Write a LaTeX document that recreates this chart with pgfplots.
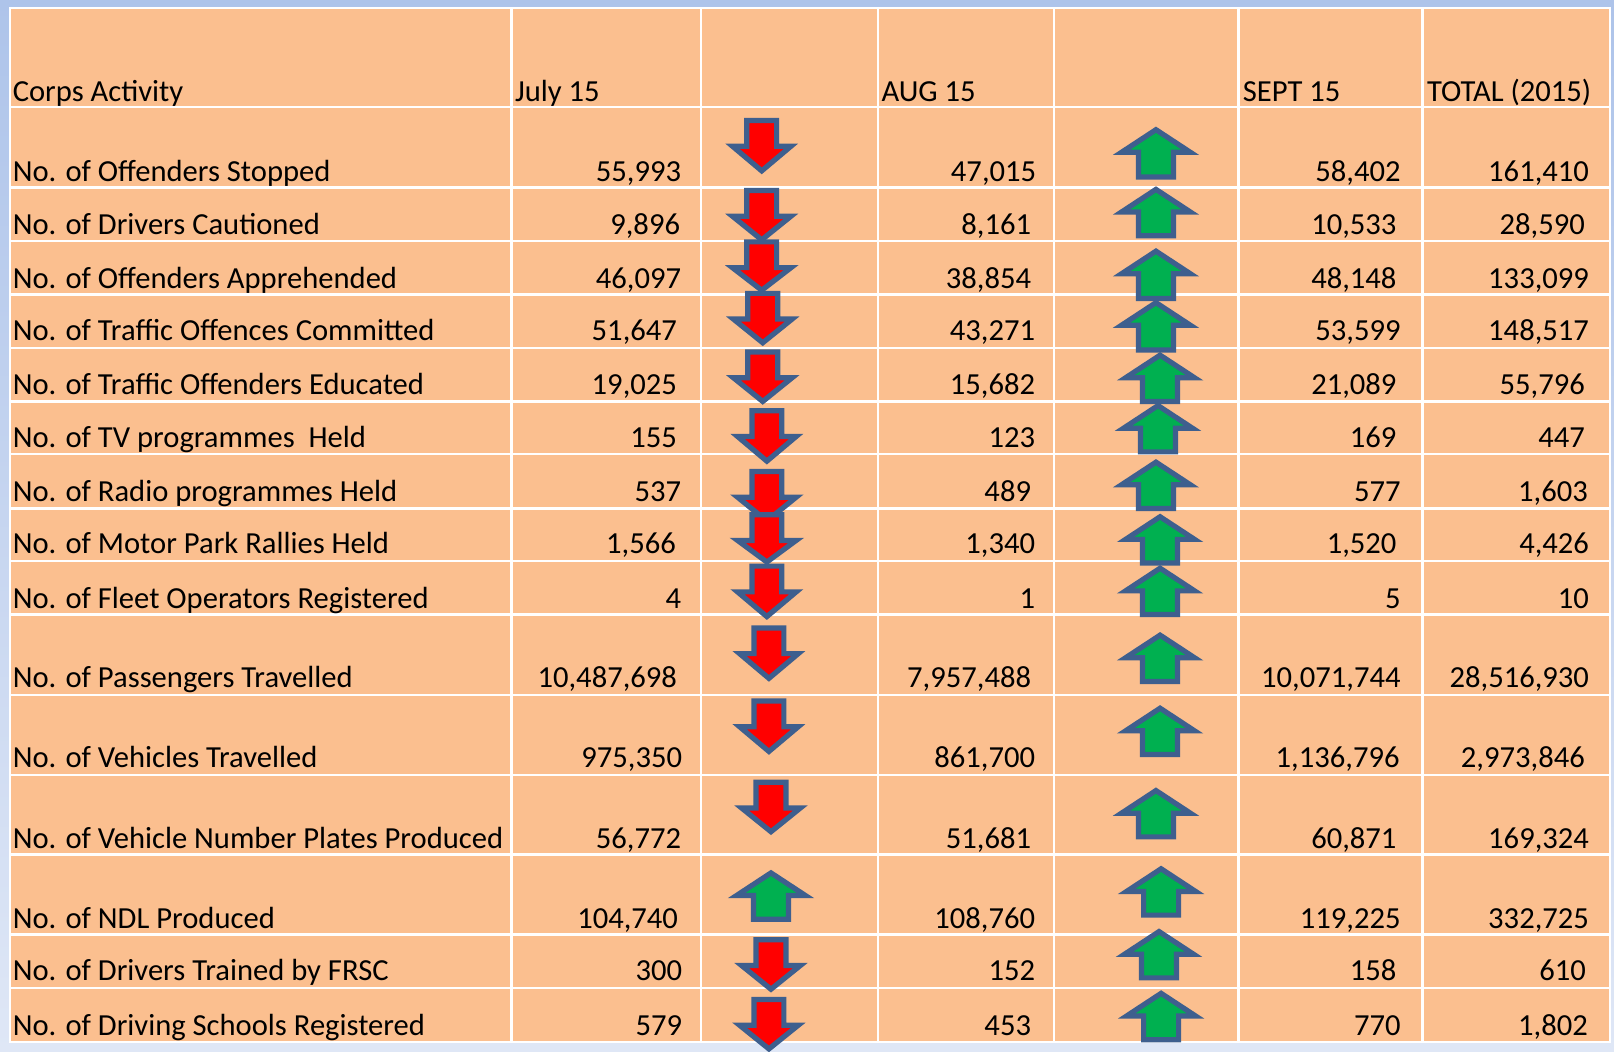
\documentclass[border=0pt]{standalone}
\usepackage{pgfplots}
\pgfplotsset{compat=1.18}
\usepackage{fontspec}
\setmainfont{Carlito}
\definecolor{cell}{HTML}{FBBF8F}
\definecolor{bgtop}{HTML}{AEC4EA}
\definecolor{bgbot}{HTML}{DFE7F6}
\definecolor{arrowline}{HTML}{3E5F8E}
\definecolor{arrowred}{HTML}{FF0000}
\definecolor{arrowgreen}{HTML}{00B050}
% down arrow: centre x, top y, tip y
\newcommand{\dn}[3]{%
 \pgfmathsetmacro{\xa}{#1-14.5}\pgfmathsetmacro{\xb}{#1+14.5}%
 \pgfmathsetmacro{\xc}{#1-28.5}\pgfmathsetmacro{\xd}{#1+28.5}%
 \pgfmathsetmacro{\ya}{#2+3}\pgfmathsetmacro{\yb}{#2+28}\pgfmathsetmacro{\yc}{#3-3}%
 \addplot[draw=arrowline,fill=arrowred,line width=2.6pt,miter limit=10] coordinates {(\xa,\ya)(\xb,\ya)(\xb,\yb)(\xd,\yb)(#1,\yc)(\xc,\yb)(\xa,\yb)} -- cycle;%
}
% up arrow: centre x, tip y, bottom y
\newcommand{\up}[3]{%
 \pgfmathsetmacro{\xa}{#1-17}\pgfmathsetmacro{\xb}{#1+17}%
 \pgfmathsetmacro{\xc}{#1-33.5}\pgfmathsetmacro{\xd}{#1+33.5}%
 \pgfmathsetmacro{\ya}{#2+3}\pgfmathsetmacro{\yb}{#2+25}\pgfmathsetmacro{\yc}{#3-3}%
 \addplot[draw=arrowline,fill=arrowgreen,line width=2.6pt,miter limit=10] coordinates {(#1,\ya)(\xd,\yb)(\xb,\yb)(\xb,\yc)(\xa,\yc)(\xa,\yb)(\xc,\yb)} -- cycle;%
}
\newcommand{\lab}[2]{\node[anchor=base west,inner sep=0pt] at (axis cs:12,#1) {#2};}
\newcommand{\val}[3]{\node[anchor=base east,inner sep=0pt] at (axis cs:#1,#2) {#3};}
\begin{document}
\begin{tikzpicture}
\begin{axis}[
  scale only axis, width=807pt, height=526pt,
  xmin=0, xmax=1568, ymin=0, ymax=1022, y dir=reverse,
  enlargelimits=false, hide axis,
  font=\fontsize{15.3}{17}\selectfont,
]
% background and table body
\addplot[draw=none,top color=bgtop,bottom color=bgbot] coordinates {(0,0)(1568,0)(1568,1022)(0,1022)} -- cycle;
\addplot[draw=white,line width=1.2pt,fill=cell] coordinates {(10,8)(1564,8)(1564,1012)(10,1012)} -- cycle;
% column rules
\addplot[white,line width=1.2pt] coordinates {(497,8)(497,1012)};
\addplot[white,line width=1.2pt] coordinates {(681,8)(681,1012)};
\addplot[white,line width=1.2pt] coordinates {(853,8)(853,1012)};
\addplot[white,line width=1.2pt] coordinates {(1024,8)(1024,1012)};
\addplot[white,line width=1.2pt] coordinates {(1203,8)(1203,1012)};
\addplot[white,line width=1.2pt] coordinates {(1382,8)(1382,1012)};
% row rules
\addplot[white,line width=1.2pt] coordinates {(10,104)(1564,104)};
\addplot[white,line width=1.2pt] coordinates {(10,182)(1564,182)};
\addplot[white,line width=1.2pt] coordinates {(10,234)(1564,234)};
\addplot[white,line width=1.2pt] coordinates {(10,286)(1564,286)};
\addplot[white,line width=1.2pt] coordinates {(10,338)(1564,338)};
\addplot[white,line width=1.2pt] coordinates {(10,390)(1564,390)};
\addplot[white,line width=1.2pt] coordinates {(10,441)(1564,441)};
\addplot[white,line width=1.2pt] coordinates {(10,494)(1564,494)};
\addplot[white,line width=1.2pt] coordinates {(10,545)(1564,545)};
\addplot[white,line width=1.2pt] coordinates {(10,597)(1564,597)};
\addplot[white,line width=1.2pt] coordinates {(10,675)(1564,675)};
\addplot[white,line width=1.2pt] coordinates {(10,753)(1564,753)};
\addplot[white,line width=1.2pt] coordinates {(10,830)(1564,830)};
\addplot[white,line width=1.2pt] coordinates {(10,908)(1564,908)};
\addplot[white,line width=1.2pt] coordinates {(10,960)(1564,960)};
% arrows, first column
\dn{740}{114}{169}\dn{740}{182}{236}\dn{740}{232}{285}\dn{741}{282}{336}\dn{741}{339}{393}
\dn{745}{396}{451}\dn{745}{455}{509}\dn{745}{497}{549}\dn{745}{547}{602}\dn{747}{607}{662}
\dn{747}{678}{733}\dn{749}{757}{811}\up{749}{845}{896}\dn{749}{910}{964}\dn{747}{968}{1022}
% arrows, second column
\up{1123}{123}{175}\up{1123}{181}{232}\up{1123}{241}{293}\up{1123}{291}{343}\up{1127}{342}{393}
\up{1125}{391}{442}\up{1123}{446}{497}\up{1127}{499}{550}\up{1127}{549}{600}\up{1127}{614}{665}
\up{1127}{685}{736}\up{1123}{765}{816}\up{1128}{841}{892}\up{1126}{902}{953}\up{1128}{962}{1013}
% header
\lab{99}{Corps Activity}
\node[anchor=base west,inner sep=0pt] at (axis cs:500,99) {July 15};
\node[anchor=base west,inner sep=0pt] at (axis cs:856,99) {AUG 15};
\node[anchor=base west,inner sep=0pt] at (axis cs:1207,99) {SEPT 15};
\node[anchor=base west,inner sep=0pt] at (axis cs:1386,99) {TOTAL (2015)};
% labels
\lab{176}{No. of Offenders Stopped}
\lab{228}{No. of Drivers Cautioned}
\lab{280}{No. of Offenders Apprehended}
\lab{331}{No. of Traffic Offences Committed}
\lab{383}{No. of Traffic Offenders Educated}
\lab{435}{No. of TV programmes\ \ Held}
\lab{487}{No. of Radio programmes Held}
\lab{538}{No. of Motor Park Rallies Held}
\lab{591}{No. of Fleet Operators Registered}
\lab{668}{No. of Passengers Travelled}
\lab{746}{No. of Vehicles Travelled}
\lab{824}{No. of Vehicle Number Plates Produced}
\lab{902}{No. of NDL Produced}
\lab{953}{No. of Drivers Trained by FRSC}
\lab{1006}{No. of Driving Schools Registered}
% July 15
\val{662}{176}{55,993}\val{661}{228}{9,896}\val{662}{280}{46,097}\val{658}{331}{51,647}\val{658}{383}{19,025}
\val{658}{435}{155}\val{662}{487}{537}\val{657}{538}{1,566}\val{662}{591}{4}\val{658}{668}{10,487,698}
\val{663}{746}{975,350}\val{662}{824}{56,772}\val{659}{902}{104,740}\val{663}{953}{300}\val{663}{1006}{579}
% AUG 15
\val{1007}{176}{47,015}\val{1002}{228}{8,161}\val{1002}{280}{38,854}\val{1006}{331}{43,271}\val{1006}{383}{15,682}
\val{1006}{435}{123}\val{1002}{487}{489}\val{1006}{538}{1,340}\val{1006}{591}{1}\val{1002}{668}{7,957,488}
\val{1006}{746}{861,700}\val{1002}{824}{51,681}\val{1006}{902}{108,760}\val{1006}{953}{152}\val{1002}{1006}{453}
% SEPT 15
\val{1361}{176}{58,402}\val{1357}{228}{10,533}\val{1357}{280}{48,148}\val{1361}{331}{53,599}\val{1357}{383}{21,089}
\val{1357}{435}{169}\val{1361}{487}{577}\val{1357}{538}{1,520}\val{1361}{591}{5}\val{1361}{668}{10,071,744}
\val{1360}{746}{1,136,796}\val{1357}{824}{60,871}\val{1361}{902}{119,225}\val{1357}{953}{158}\val{1361}{1006}{770}
% TOTAL (2015)
\val{1544}{176}{161,410}\val{1540}{228}{28,590}\val{1544}{280}{133,099}\val{1544}{331}{148,517}\val{1540}{383}{55,796}
\val{1540}{435}{447}\val{1543}{487}{1,603}\val{1544}{538}{4,426}\val{1544}{591}{10}\val{1544}{668}{28,516,930}
\val{1540}{746}{2,973,846}\val{1544}{824}{169,324}\val{1544}{902}{332,725}\val{1541}{953}{610}\val{1543}{1006}{1,802}
\end{axis}
\end{tikzpicture}
\end{document}
